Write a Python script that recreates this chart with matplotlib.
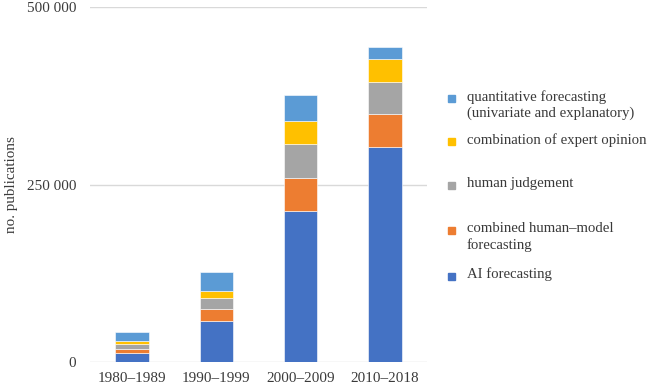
import numpy as np
import matplotlib
matplotlib.use("Agg")
import matplotlib.pyplot as plt
from matplotlib.patches import Rectangle
import matplotlib.ticker as ticker

# ---------------------------------------------------------------------------
# Data
# ---------------------------------------------------------------------------
decades = ["1980–1989", "1990–1999", "2000–2009", "2010–2018"]

ai_forecasting = [12700, 58300, 212700, 303700]
combined_human_model = [6100, 16500, 47200, 45600]
human_judgement = [6600, 16400, 47000, 45600]
expert_combination = [4200, 9400, 33500, 32000]
quantitative = [13200, 26400, 36200, 17400]

series = [
    ("AI forecasting", ai_forecasting, "#4472C4"),
    ("combined human–model\nforecasting", combined_human_model, "#ED7D31"),
    ("human judgement", human_judgement, "#A5A5A5"),
    ("combination of expert opinion", expert_combination, "#FFC000"),
    ("quantitative forecasting\n(univariate and explanatory)", quantitative, "#5B9BD5"),
]

# ---------------------------------------------------------------------------
# Plot
# ---------------------------------------------------------------------------
plt.rcParams["font.family"] = ["Liberation Serif", "DejaVu Serif"]
text_col = "#3a3a3a"
fs = 10.9

fig = plt.figure(figsize=(6.49, 3.92), dpi=100)
ax = fig.add_axes([90 / 649, 1 - 362.3 / 392, 337 / 649, 355 / 392])

x = np.arange(len(decades))
bottom = np.zeros(len(decades))
for name, vals, col in series:
    ax.bar(x, vals, 0.4, bottom=bottom, color=col, edgecolor="white",
           linewidth=0.4, zorder=3)
    bottom += np.array(vals)

ax.set_xlim(-0.5, len(decades) - 0.5)
ax.set_ylim(0, 500000)
ax.set_yticks([0, 250000, 500000])
ax.yaxis.set_major_formatter(ticker.FuncFormatter(
    lambda v, p: f"{int(v):,}".replace(",", " ")))
ax.set_xticks(x)
ax.set_xticklabels(decades)
ax.tick_params(axis="both", length=0, labelsize=fs, labelcolor=text_col)
ax.tick_params(axis="y", pad=10)
ax.tick_params(axis="x", pad=7)
ax.grid(True, axis="y", color="#D9D9D9", linewidth=1, zorder=0)
for s in ax.spines.values():
    s.set_visible(False)
ax.set_ylabel("no. publications", fontsize=fs, color=text_col)
ax.yaxis.set_label_coords(-72 / 337, 0.5)

# Excel-style legend, entries from top to bottom
legend_y = [98.7, 141.7, 185.3, 230.7, 276.0]
for (name, vals, col), yc in zip(series[::-1], legend_y):
    fig.patches.append(Rectangle(((448.5) / 649, 1 - (yc + 3.5) / 392),
                                 7 / 649, 7 / 392, color=col,
                                 transform=fig.transFigure, figure=fig))
    fig.text(467 / 649, 1 - (yc - 8.5) / 392, name, fontsize=10.6,
             color=text_col, va="top", ha="left", linespacing=1.25)

fig.savefig("out.png", dpi=100)
